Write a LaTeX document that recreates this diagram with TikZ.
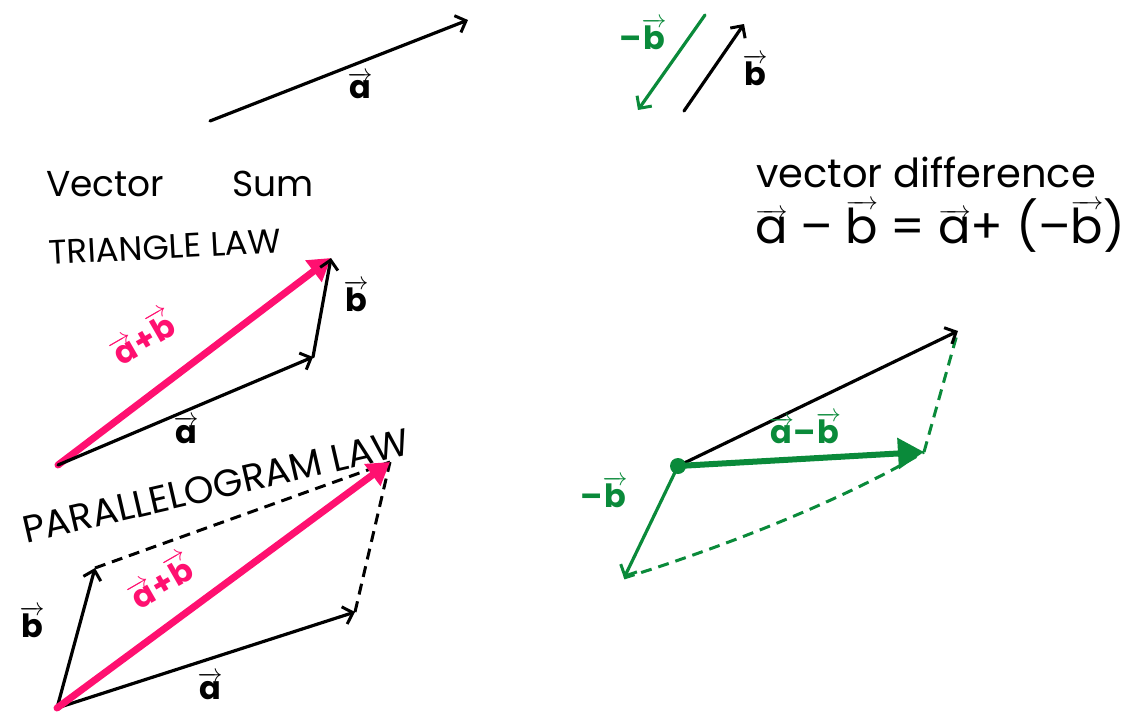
\documentclass[tikz,border=0pt]{standalone}
\usepackage{fontspec}
\setmainfont{Poppins}
\usetikzlibrary{arrows.meta}
\definecolor{pk}{RGB}{255,16,112}
\definecolor{gr}{RGB}{10,138,58}
\newcommand{\vv}[1]{$\overrightarrow{\mbox{#1}}$}
\begin{document}
\begin{tikzpicture}[x=1pt,y=-1pt,
  vec/.style={line width=3.2pt,line cap=round,-{Straight Barb[length=9pt,width=18pt,line width=3pt]}},
  gvec/.style={vec,draw=gr},
  pvec/.style={line width=7pt,line cap=round,draw=pk,-{Triangle[length=22pt,width=26pt]}},
  gsum/.style={line width=6pt,line cap=round,draw=gr,-{Triangle[length=26pt,width=30pt]}},
  dsh/.style={line width=3pt,dash pattern=on 11pt off 7pt},
  lbl/.style={font=\fontsize{32}{34}\selectfont\bfseries,inner sep=1pt},
  plbl/.style={lbl,text=pk},
  glbl/.style={lbl,text=gr},
  head/.style={inner sep=0pt}]
\useasboundingbox (0,0) rectangle (1136,713);
% top vectors
\coordinate (ta0) at (210,121); \coordinate (ta1) at (468,20);
\draw[vec] (ta0) -- (ta1);
\node[lbl] (tal) at (360,86) {\vv{a}};
\coordinate (nb0) at (705,15); \coordinate (nb1) at (638,110);
\draw[gvec] (nb0) -- (nb1);
\node[glbl] (nbl) at (643,34) {–\vv{b}};
\coordinate (tb0) at (684,111); \coordinate (tb1) at (744,24);
\draw[vec] (tb0) -- (tb1);
\node[lbl] (tbl) at (755,70) {\vv{b}};
% headings
\node[head,font=\fontsize{36}{38}\selectfont] (vs) at (180,184) {Vector\hspace{68pt}Sum};
\node[head,font=\fontsize{34}{36}\selectfont,rotate=3] (tl) at (165,247) {TRIANGLE LAW};
\node[head,font=\fontsize{40}{42}\selectfont] (vd) at (926,172) {vector difference};
\node[head,font=\fontsize{48}{50}\selectfont] (eq) at (940,226) {\vv{a} – \vv{b} = \vv{a}+ (–\vv{b})};
% triangle law
\coordinate (o1) at (58,465); \coordinate (a1) at (313,357); \coordinate (b1) at (331,258);
\draw[pvec] (o1) -- (b1);
\draw[vec] (o1) -- (a1);
\draw[vec] (a1) -- (b1);
\node[plbl,rotate=30] (sl1) at (142,336) {\vv{a}+\vv{b}};
\node[lbl] (bl1) at (356,296) {\vv{b}};
\node[lbl] (al1) at (186,430) {\vv{a}};
% parallelogram law
\coordinate (o2) at (57,708); \coordinate (a2) at (355,612); \coordinate (b2) at (95,568); \coordinate (s2) at (390,462);
\draw[dsh] (b2) -- (s2);
\draw[dsh] (a2) -- (s2);
\draw[vec] (o2) -- (a2);
\draw[vec] (o2) -- (b2);
\draw[pvec] (o2) -- (s2);
\node[head,font=\fontsize{38}{40}\selectfont,rotate=13] (pl) at (216,486) {PARALLELOGRAM LAW};
\node[plbl,rotate=30] (sl2) at (160,580) {\vv{a}+\vv{b}};
\node[lbl] (bl2) at (32,622) {\vv{b}};
\node[lbl] (al2) at (210,686) {\vv{a}};
% vector difference
\coordinate (p) at (678,466); \coordinate (q) at (958,331); \coordinate (r) at (924,452); \coordinate (m) at (624,578);
\draw[dsh,draw=gr] (m) .. controls (720,548) and (840,502) .. (r);
\draw[dsh,draw=gr] (r) -- (q);
\draw[vec] (p) -- (q);
\draw[gsum] (p) -- (r);
\draw[gvec] (p) -- (m);
\fill[gr] (p) circle (8pt);
\node[glbl] (dl) at (805,428) {\vv{a}–\vv{b}};
\node[glbl] (nbl2) at (604,492) {–\vv{b}};
\end{tikzpicture}
\end{document}
